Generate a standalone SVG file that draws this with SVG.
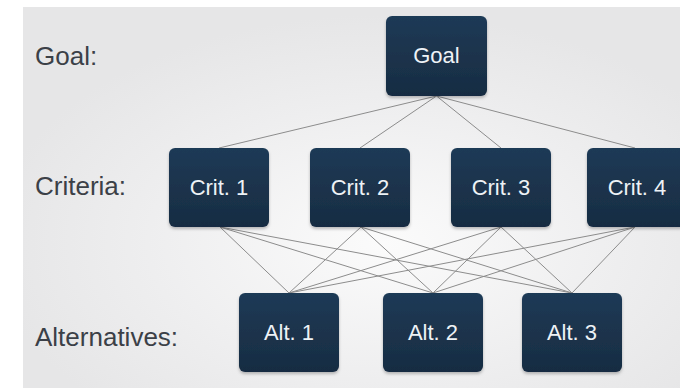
<svg xmlns="http://www.w3.org/2000/svg" width="680" height="388" viewBox="0 0 680 388">
  <defs>
    <radialGradient id="bg" cx="0.55" cy="0.62" r="0.6">
      <stop offset="0" stop-color="#fbfbfb"/>
      <stop offset="0.6" stop-color="#eeeeef"/>
      <stop offset="1" stop-color="#e6e6e7"/>
    </radialGradient>
    <linearGradient id="node" x1="0" y1="0" x2="0" y2="1">
      <stop offset="0" stop-color="#1f3a56"/>
      <stop offset="1" stop-color="#172c42"/>
    </linearGradient>
    <filter id="sh" x="-10%" y="-10%" width="120%" height="130%">
      <feDropShadow dx="0" dy="2" stdDeviation="1.5" flood-color="#000" flood-opacity="0.25"/>
    </filter>
  </defs>
  <style>
    .box { fill: url(#node); filter: url(#sh); }
    .nt { font-family: "Liberation Sans", Arial, sans-serif; font-size: 22px; fill: #eef2f6; text-anchor: middle; }
    .lbl { font-family: "Liberation Sans", Arial, sans-serif; font-size: 26px; fill: #3b4047; }
    .edge { stroke: #8c8c8c; stroke-width: 1; fill: none; }
  </style>
  <rect x="0" y="0" width="680" height="388" fill="#ffffff"/>
  <rect x="23" y="7" width="657" height="381" fill="url(#bg)"/>

  <g id="labels">
    <text class="lbl" x="35" y="65">Goal:</text>
    <text class="lbl" x="35" y="195">Criteria:</text>
    <text class="lbl" x="35" y="346">Alternatives:</text>
  </g>

  <g id="connectors">
    <line class="edge" x1="436.5" y1="96" x2="219" y2="148"/>
    <line class="edge" x1="436.5" y1="96" x2="360" y2="148"/>
    <line class="edge" x1="436.5" y1="96" x2="501" y2="148"/>
    <line class="edge" x1="436.5" y1="96" x2="635" y2="148"/>

    <line class="edge" x1="220" y1="227" x2="289" y2="293"/>
    <line class="edge" x1="220" y1="227" x2="433" y2="293"/>
    <line class="edge" x1="220" y1="227" x2="572" y2="293"/>
    <line class="edge" x1="361" y1="227" x2="289" y2="293"/>
    <line class="edge" x1="361" y1="227" x2="433" y2="293"/>
    <line class="edge" x1="361" y1="227" x2="572" y2="293"/>
    <line class="edge" x1="501" y1="227" x2="289" y2="293"/>
    <line class="edge" x1="501" y1="227" x2="433" y2="293"/>
    <line class="edge" x1="501" y1="227" x2="572" y2="293"/>
    <line class="edge" x1="635" y1="227" x2="289" y2="293"/>
    <line class="edge" x1="635" y1="227" x2="433" y2="293"/>
    <line class="edge" x1="635" y1="227" x2="572" y2="293"/>
  </g>

  <g id="goal">
    <rect class="box" x="386" y="16" width="101" height="80" rx="6"/>
    <text class="nt" x="436.5" y="63">Goal</text>
  </g>
  <g id="crit1">
    <rect class="box" x="169" y="148" width="100" height="79" rx="6"/>
    <text class="nt" x="219" y="195">Crit. 1</text>
  </g>
  <g id="crit2">
    <rect class="box" x="310" y="148" width="100" height="79" rx="6"/>
    <text class="nt" x="360" y="195">Crit. 2</text>
  </g>
  <g id="crit3">
    <rect class="box" x="451" y="148" width="100" height="79" rx="6"/>
    <text class="nt" x="501" y="195">Crit. 3</text>
  </g>
  <g id="crit4">
    <rect class="box" x="587" y="148" width="100" height="79" rx="6"/>
    <text class="nt" x="637" y="195">Crit. 4</text>
  </g>
  <g id="alt1">
    <rect class="box" x="239" y="293" width="100" height="79" rx="6"/>
    <text class="nt" x="289" y="340">Alt. 1</text>
  </g>
  <g id="alt2">
    <rect class="box" x="383" y="293" width="100" height="79" rx="6"/>
    <text class="nt" x="433" y="340">Alt. 2</text>
  </g>
  <g id="alt3">
    <rect class="box" x="522" y="293" width="100" height="79" rx="6"/>
    <text class="nt" x="572" y="340">Alt. 3</text>
  </g>
</svg>
